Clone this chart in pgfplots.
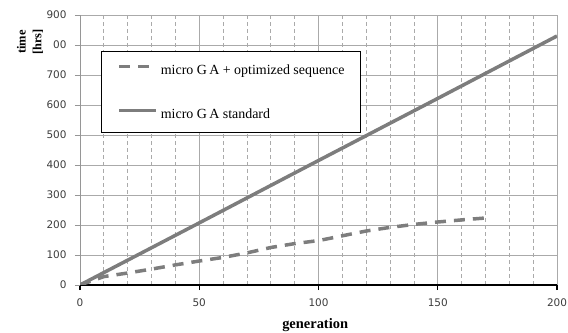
\documentclass[border=0pt]{standalone}
\usepackage{pgfplots}
\pgfplotsset{compat=1.18}
\usepackage{fontspec}
\setmainfont{Liberation Serif}
\newfontfamily\tickfont{DejaVu Sans}
\definecolor{linegray}{RGB}{125,125,125}
\definecolor{gridgray}{RGB}{170,170,170}
\definecolor{majgray}{RGB}{150,150,150}
\definecolor{ticktext}{RGB}{60,60,60}
\begin{document}
\begin{tikzpicture}
\useasboundingbox (0,0) rectangle (568bp,333bp);
\begin{axis}[
 at={(80bp,48bp)}, anchor=south west,
 scale only axis, width=477bp, height=270bp,
 xmin=0, xmax=200, ymin=0, ymax=900,
 axis x line*=bottom, axis y line*=left,
 x axis line style={black, line width=1.6bp, -},
 y axis line style={majgray, line width=1bp, -},
 xtick={0,50,100,150,200}, ytick={0,100,...,900},
 yticklabels={0,100,200,300,400,500,600,700,00,900},
 minor xtick={10,20,30,40,60,70,80,90,110,120,130,140,160,170,180,190},
 xmajorgrids, ymajorgrids, xminorgrids,
 major grid style={gridgray, line width=1bp},
 minor grid style={gridgray, dash pattern=on 4bp off 3bp, line width=0.8bp},
 major tick length=5bp, minor tick length=0pt,
 tick align=outside,
 xtick style={black, line width=1.2bp},
 ytick style={majgray, line width=1bp},
 tick label style={font=\tickfont\fontsize{10.5}{12}\selectfont, text=ticktext},
 xticklabel style={yshift=-5bp},
 yticklabel style={xshift=-5bp},
 /pgf/number format/assume math mode=true,
 xlabel={generation},
 xlabel style={at={(axis description cs:0.493,-0.148)}, anchor=center, font=\fontsize{14.5}{16}\selectfont\bfseries},
 ylabel={time\\{}{[hrs]}},
 ylabel style={at={(axis description cs:-0.1048,0.900)}, anchor=center, align=center, font=\fontsize{12.5}{16}\selectfont\bfseries},
 legend style={at={(axis cs:8.8,780)}, anchor=north west, draw=black, line width=0.8bp, fill=white,
   inner xsep=16bp, inner ysep=13bp, row sep=33bp, font=\fontsize{14}{16}\selectfont,
   nodes={inner sep=0pt}, /tikz/every odd column/.append style={column sep=3bp}},
 legend cell align=left,
 legend image code/.code={\draw[#1] (0bp,3.5bp) -- (37bp,3.5bp);},
]
\addplot[linegray, line width=3.5bp, dash pattern=on 11bp off 8bp] coordinates {
 (0,0) (10,28) (20,40) (30,53) (40,67) (50,80) (60,92) (70,107) (80,125) (90,138)
 (100,148) (110,164) (120,180) (130,192) (140,202) (150,210) (160,217) (171,224)};
\addlegendentry{micro G\,A + optimized sequence}
\addplot[linegray, line width=3.5bp] coordinates {
 (0,0) (50,207) (100,415) (150,622) (200,830)};
\addlegendentry{micro G\,A standard}
\end{axis}
\end{tikzpicture}
\end{document}
